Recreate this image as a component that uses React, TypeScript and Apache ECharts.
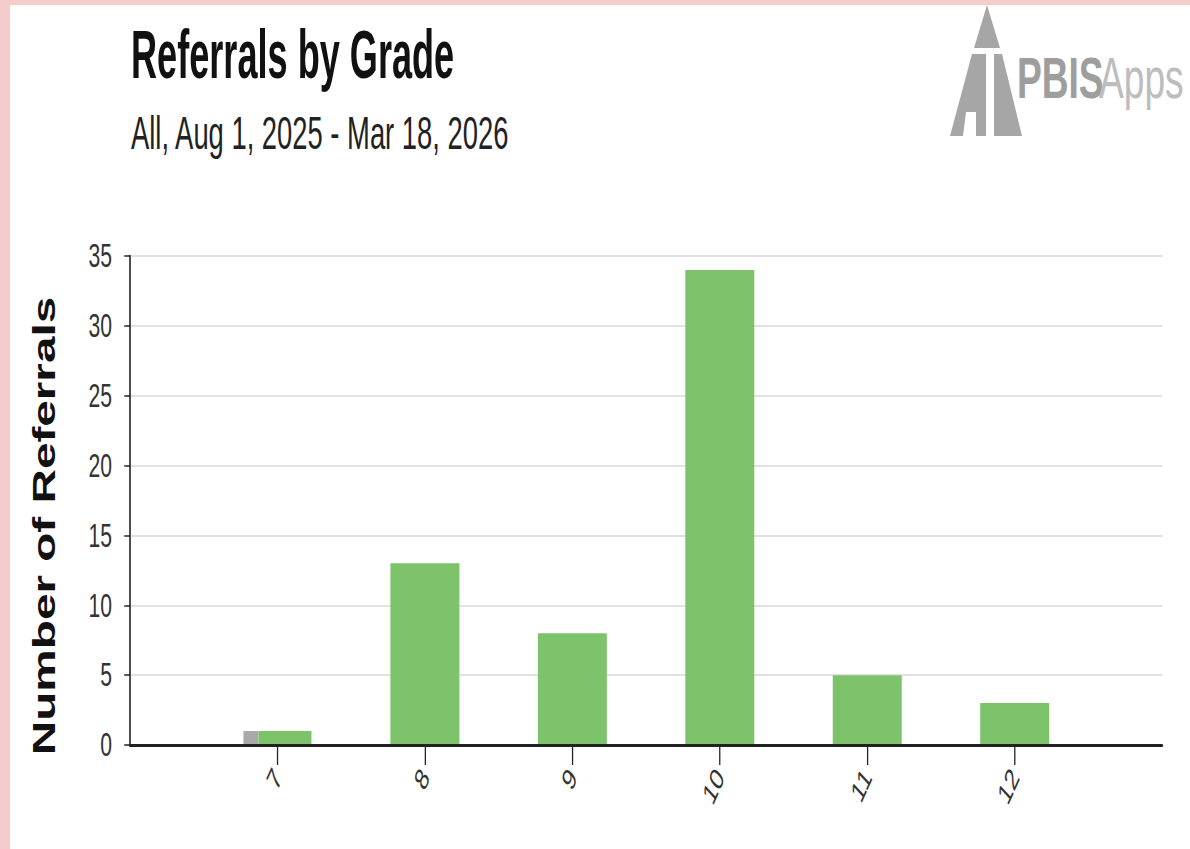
import React, { useEffect, useRef } from 'react';
import * as echarts from 'echarts';

// ---- data ----
const grades = ['7', '8', '9', '10', '11', '12'];
const referrals = [1, 13, 8, 34, 5, 3];
const greySegment = [1, null, null, null, null, null]; // grey strip seen at the left of grade 7's bar
const yMin = 0;
const yMax = 35;
const yInterval = 5;
const titleText = 'Referrals by Grade';
const subtitleText = 'All, Aug 1, 2025 - Mar 18, 2026';
const yAxisTitle = 'Number of Referrals';

// ---- layout (the reference is horizontally condensed) ----
const SX = 0.64;
const W = 1180;
const H = 844;
const LW = W / SX;
const px = (x: number) => (x - 10) / SX;
const py = (y: number) => y - 5;

const FONT = '"Liberation Sans", Arial, Helvetica, sans-serif';
const GREEN = '#7cc36b';
const GREY = '#a9a9a9';

function App() {
  const ref = useRef<HTMLDivElement>(null);

  useEffect(() => {
    document.body.style.margin = '0';
    const chart = echarts.init(ref.current as HTMLDivElement, null, { renderer: 'svg' });

    const cats = ['', ...grades, ''];
    const pad = (a: (number | null)[]) => [null, ...a, null];
    const mainVals = referrals.map((v, i) => (greySegment[i] != null ? null : v));
    const splitGreen = referrals.map((v, i) => (greySegment[i] != null ? v : null));

    const baseX = {
      type: 'category' as const,
      data: cats,
      boundaryGap: false,
    };

    chart.setOption({
      animation: false,
      backgroundColor: '#ffffff',
      textStyle: { fontFamily: FONT },
      grid: {
        left: px(130),
        right: LW - px(1162),
        top: py(256),
        bottom: H - py(745),
        containLabel: false,
      },
      xAxis: [
        {
          ...baseX,
          axisLine: { show: true, lineStyle: { color: '#222', width: 3 } },
          axisTick: {
            show: true,
            length: 20,
            lineStyle: { color: '#222', width: 2 },
            interval: (_i: number, v: string) => v !== '',
          },
          axisLabel: {
            show: true,
            interval: 0,
            rotate: 55,
            margin: 27,
            fontSize: 31,
            color: '#333',
            fontFamily: FONT,
          },
          splitLine: { show: false },
          z: 5,
        },
        {
          ...baseX,
          show: false,
        },
      ],
      yAxis: {
        type: 'value',
        min: yMin,
        max: yMax,
        interval: yInterval,
        axisLine: { show: true, lineStyle: { color: '#222', width: 2.5 } },
        axisTick: { show: true, length: 9, lineStyle: { color: '#222', width: 1.5 } },
        axisLabel: { margin: 28, fontSize: 33, color: '#333', fontFamily: FONT },
        splitLine: { show: true, lineStyle: { color: '#d9d9d9', width: 1.5 } },
      },
      series: [
        {
          type: 'bar',
          xAxisIndex: 0,
          data: pad(mainVals),
          barWidth: 69 / SX,
          itemStyle: { color: GREEN },
        },
        {
          type: 'bar',
          xAxisIndex: 1,
          data: pad(greySegment),
          barWidth: 15 / SX,
          barGap: 0,
          itemStyle: { color: GREY },
        },
        {
          type: 'bar',
          xAxisIndex: 1,
          data: pad(splitGreen),
          barWidth: 53 / SX,
          barGap: 0,
          itemStyle: { color: GREEN },
        },
      ],
      graphic: [
        {
          type: 'text',
          x: px(131),
          y: py(21),
          scaleX: 0.83,
          style: {
            text: titleText,
            fontSize: 68,
            fontWeight: 'bold',
            fontFamily: FONT,
            fill: '#111',
            verticalAlign: 'top',
          },
        },
        {
          type: 'text',
          x: px(131),
          y: py(110),
          scaleX: 0.93,
          style: {
            text: subtitleText,
            fontSize: 46,
            fontFamily: FONT,
            fill: '#222',
            verticalAlign: 'top',
          },
        },
        {
          type: 'text',
          x: px(44),
          y: py(526),
          rotation: Math.PI / 2,
          style: {
            text: yAxisTitle,
            fontSize: 47.7,
            fontWeight: 'bold',
            fontFamily: FONT,
            fill: '#111',
            align: 'center',
            verticalAlign: 'middle',
          },
        },
        // PBISApps logo
        {
          type: 'group',
          children: [
            {
              type: 'polygon',
              shape: { points: [[px(987), py(5)], [px(974), py(48)], [px(1000), py(48)]] },
              style: { fill: '#a6a6a6' },
            },
            {
              type: 'polygon',
              shape: {
                points: [
                  [px(972), py(54)], [px(986), py(54)], [px(986), py(136)], [px(976), py(136)],
                  [px(976), py(112)], [px(966), py(112)], [px(963), py(136)], [px(950), py(136)],
                ],
              },
              style: { fill: '#a6a6a6' },
            },
            {
              type: 'polygon',
              shape: {
                points: [[px(994), py(54)], [px(1002), py(54)], [px(1022), py(136)], [px(994), py(136)]],
              },
              style: { fill: '#a6a6a6' },
            },
            {
              type: 'text',
              x: px(1017),
              y: py(49),
              style: {
                text: 'PBIS',
                fontSize: 58,
                fontWeight: 'bold',
                fontFamily: FONT,
                fill: '#9e9e9e',
                verticalAlign: 'top',
              },
            },
            {
              type: 'text',
              x: px(1099),
              y: py(49),
              style: {
                text: 'Apps',
                fontSize: 58,
                fontFamily: FONT,
                fill: '#bdbdbd',
                verticalAlign: 'top',
              },
            },
          ],
        },
      ],
    });

    return () => chart.dispose();
  }, []);

  return (
    <div style={{ position: 'relative', width: 1190, height: 849, background: '#f4cccc', overflow: 'hidden' }}>
      <div style={{ position: 'absolute', left: 10, top: 5, width: W, height: H, background: '#ffffff', overflow: 'hidden' }}>
        <div ref={ref} style={{ width: LW, height: H, transform: `scaleX(${SX})`, transformOrigin: '0 0' }} />
      </div>
    </div>
  );
}

export default App;
